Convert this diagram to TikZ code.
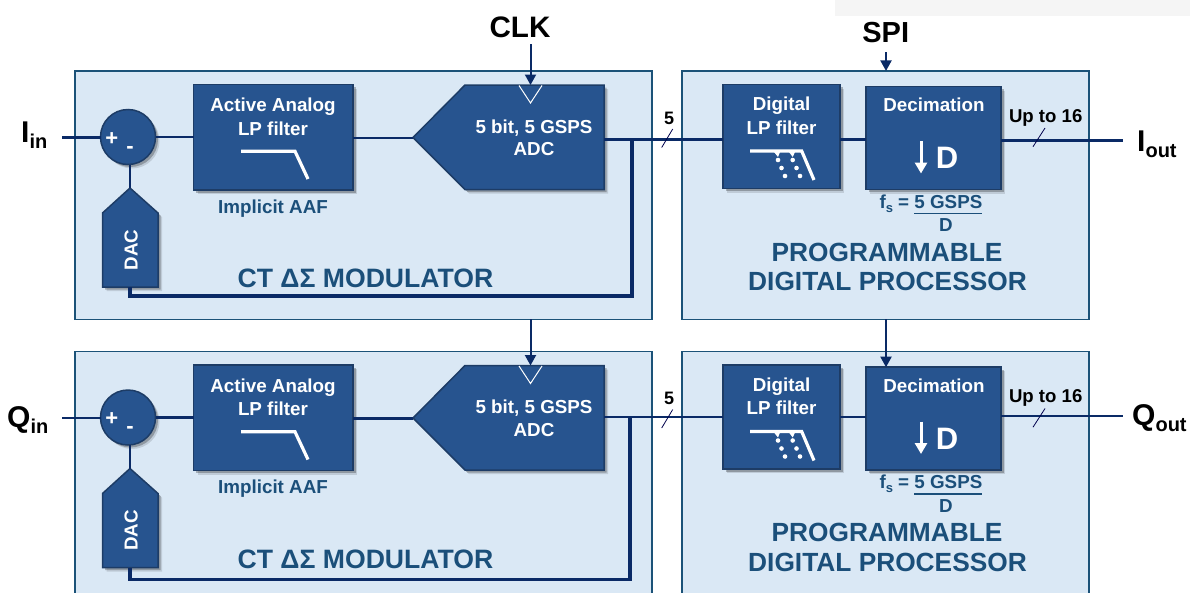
\documentclass[tikz,border=0pt]{standalone}
\usepackage{fontspec}
\setmainfont{Liberation Sans}
\usetikzlibrary{arrows.meta,shadows}
\definecolor{panelfill}{HTML}{DAE8F5}
\definecolor{panelline}{HTML}{1B5278}
\definecolor{blockfill}{HTML}{27548F}
\definecolor{blockline}{HTML}{1D3C66}
\definecolor{wirecol}{HTML}{0A2A66}
\definecolor{titlecol}{HTML}{1B4F7A}
\newcommand{\fsz}[1]{\bfseries\fontsize{#1}{#1}\selectfont}
\tikzset{
  panelbox/.style={draw=panelline,line width=1.6pt,fill=panelfill,inner sep=0,outer sep=0,minimum width=#1},
  blockstyle/.style={draw=blockline,line width=1.5pt,fill=blockfill,
    drop shadow={shadow xshift=4pt,shadow yshift=-4pt,opacity=.12,fill=black},
    drop shadow={shadow xshift=2.5pt,shadow yshift=-2.5pt,opacity=.25,fill=black}},
  blockbox/.style={blockstyle,inner sep=0,outer sep=0,rectangle},
  wire/.style={draw=wirecol,line width=2.5pt},
  feed/.style={draw=wirecol,line width=2pt,-{Triangle[width=11pt,length=10.5pt]}},
  tick/.style={draw=black!70!blue,line width=.8pt},
  icon/.style={draw=white,line width=3.2pt,line join=miter},
  wtxt/.style={text=white,anchor=base,inner sep=0,font=\fsz{18.8}},
  ttxt/.style={text=titlecol,anchor=base,inner sep=0,font=\fsz{#1}},
  ktxt/.style={text=black,anchor=base,inner sep=0,font=\fsz{#1}},
  lbl/.style={text=black,anchor=base west,inner sep=0,font=\bfseries},
}
% #1 prefix, #2 shift, #3 feedback x, #4 feedback y, #5 adc wire y, #6 out wire y, #7 feedback width
\newcommand{\rowdraw}[7]{%
\begin{scope}[yshift=-#2pt]
  \node[panelbox=577pt,minimum height=248.5pt] (#1mod) at (363.5,195.2) {};
  \node[panelbox=407pt,minimum height=248.5pt] (#1proc) at (885.5,195.2) {};
  \node[blockbox,minimum width=159.5pt,minimum height=105.5pt] (#1filt) at (273.25,137.25) {};
  \node[blockbox,minimum width=117pt,minimum height=104pt] (#1dig) at (781.5,136.5) {};
  \node[blockbox,minimum width=135pt,minimum height=103pt] (#1dec) at (933.5,138.2) {};
  \node[blockstyle,circle,minimum size=55pt,inner sep=0,outer sep=0] (#1sum) at (128,137) {};
  \path[blockstyle] (413,137.5) -- (465,85) -- (604,85) -- (604,189.5) -- (465,189.5) -- cycle;
  \path[blockstyle] (130,188) -- (158,213) -- (158,287) -- (102.5,287) -- (102.5,213) -- cycle;
  \coordinate (#1adctip) at (413,138);
  \coordinate (#1adcout) at (604,#5);
  \coordinate (#1dacin) at (130,188);
  \coordinate (#1dacout) at (130,287);
  \coordinate (#1clk) at (530.5,85);
  \coordinate (#1tap) at (#3,#5);
  \coordinate (#1fba) at (#3,#4);
  \coordinate (#1fbb) at (130,#4);
  \coordinate (#1in) at (62,137.5);
  \coordinate (#1outa) at (1001,#6);
  \coordinate (#1outb) at (1123,#6);
  % wires
  \draw[wire] (#1in) -- (#1sum.west |- #1in);
  \draw[wire] (#1sum.east) -- (#1filt.west |- #1sum.east);
  \draw[wire] (#1filt.east |- #1adctip) -- (#1adctip);
  \draw[wire] (#1adcout) -- (#1dig.west |- #1adcout);
  \draw[wire] (#1dig.east |- #1adcout) -- (#1dec.west |- #1adcout);
  \draw[wire] (#1outa) -- (#1outb);
  \draw[wire] (#1dacin |- #1sum.south) -- (#1dacin);
  \draw[draw=wirecol,line width=#7pt,line join=miter] (#1tap) -- (#1fba) -- (#1fbb) -- (#1dacout);
  % clock input triangle
  \draw[draw=white,line width=1pt] (519,85.5) -- (530.5,103) -- (542,85.5);
  % bus ticks
  \draw[tick] (661.7,147.5) -- (672.7,129);
  \draw[tick] (1033,146.7) -- (1045,128);
  % filter icons
  \draw[icon] (241,151.3) -- (295,151.3) -- (308,179);
  \draw[icon] (750,151) -- (801.7,151) -- (814,180);
  \foreach \dx/\dy in {778/160,781.5/168,785/176,792.7/160,796.5/168,800/176}
    \fill[white] (\dx,\dy) circle (2.3pt);
  \fill[white] (774,152) -- (780,152) -- (778,157) -- cycle;
  \fill[white] (789,152) -- (795,152) -- (792.7,157) -- cycle;
  % decimation arrow
  \draw[draw=white,line width=3pt,-{Triangle[width=12pt,length=11pt]}] (921,141) -- (921,173.5);
  \draw[titlecol,line width=1.4pt] (914,213.5) -- (981.7,213.5);
  % texts
  \node[wtxt] (#1t1) at (273,111.5) {Active Analog};
  \node[wtxt] (#1t2) at (273,135) {LP filter};
  \node[ttxt=18.8] (#1t3) at (273,213) {Implicit AAF};
  \node[ttxt=26.6] (#1t4) at (365.5,287.5) {CT ΔΣ MODULATOR};
  \node[wtxt,rotate=90] (#1t5) at (137.7,250) {DAC};
  \node[wtxt] (#1t6) at (534,133.3) {5 bit, 5 GSPS};
  \node[wtxt] (#1t7) at (534,155.7) {ADC};
  \node[ktxt=18] (#1t8) at (669,124.3) {5};
  \node[wtxt] (#1t9) at (781.5,110.7) {Digital};
  \node[wtxt] (#1t10) at (781.5,134) {LP filter};
  \node[wtxt] (#1t11) at (934,111.7) {Decimation};
  \node[wtxt,font=\fsz{31}] (#1t12) at (947,168.5) {D};
  \node[ktxt=18.6] (#1t13) at (1045.7,122.3) {Up to 16};
  \node[text=titlecol,anchor=base west,inner sep=0,font=\fsz{18.8}] (#1t14) at (879.3,208) {f\raisebox{-4pt}{\fsz{13}s} = 5 GSPS};
  \node[ttxt=18.8] (#1t15) at (946,231.7) {D};
  \node[ttxt=26.3] (#1t16) at (887,261) {PROGRAMMABLE};
  \node[ttxt=26.3] (#1t17) at (887.5,290.7) {DIGITAL PROCESSOR};
  \node[wtxt,font=\fsz{22}] (#1t18) at (111.7,145) {+};
  \node[wtxt,font=\fsz{22}] (#1t19) at (130,153) {-};
\end{scope}}
\begin{document}
\begin{tikzpicture}[x=1pt,y=-1pt]
  \useasboundingbox (0,0) rectangle (1190,592);
  \clip (0,0) rectangle (1190,592);
  \fill[white] (0,0) rectangle (1190,592);
  \fill[black!4] (835,0) rectangle (1190,16);
  \rowdraw{a}{0}{632}{295.7}{139.5}{140.5}{4}
  \rowdraw{b}{280.5}{630}{299}{136.3}{135.3}{3.4}
  \coordinate (clkin) at (530.5,44);
  \coordinate (spiin) at (886,52);
  \node[ktxt=29.6] (clkl) at (520,37.7) {CLK};
  \node[ktxt=29] (spil) at (885.7,42.7) {SPI};
  \draw[feed] (clkin) -- (aclk);
  \draw[feed] (spiin) -- (aproc.north -| spiin);
  \draw[feed] (amod.south -| aclk) -- (bclk);
  \draw[feed] (aproc.south -| spiin) -- (bdec.north -| spiin);
  \node[lbl] (iin) at (21,142) {\fontsize{30}{30}\selectfont I\raisebox{-6pt}{\fontsize{20}{20}\selectfont in}};
  \node[lbl] (iout) at (1137,151) {\fontsize{30}{30}\selectfont I\raisebox{-6pt}{\fontsize{20}{20}\selectfont out}};
  \node[lbl] (qin) at (7,427) {\fontsize{30}{30}\selectfont Q\raisebox{-6pt}{\fontsize{20}{20}\selectfont in}};
  \node[lbl] (qout) at (1132,425.5) {\fontsize{30}{30}\selectfont Q\raisebox{-6pt}{\fontsize{20}{20}\selectfont out}};
\end{tikzpicture}
\end{document}
